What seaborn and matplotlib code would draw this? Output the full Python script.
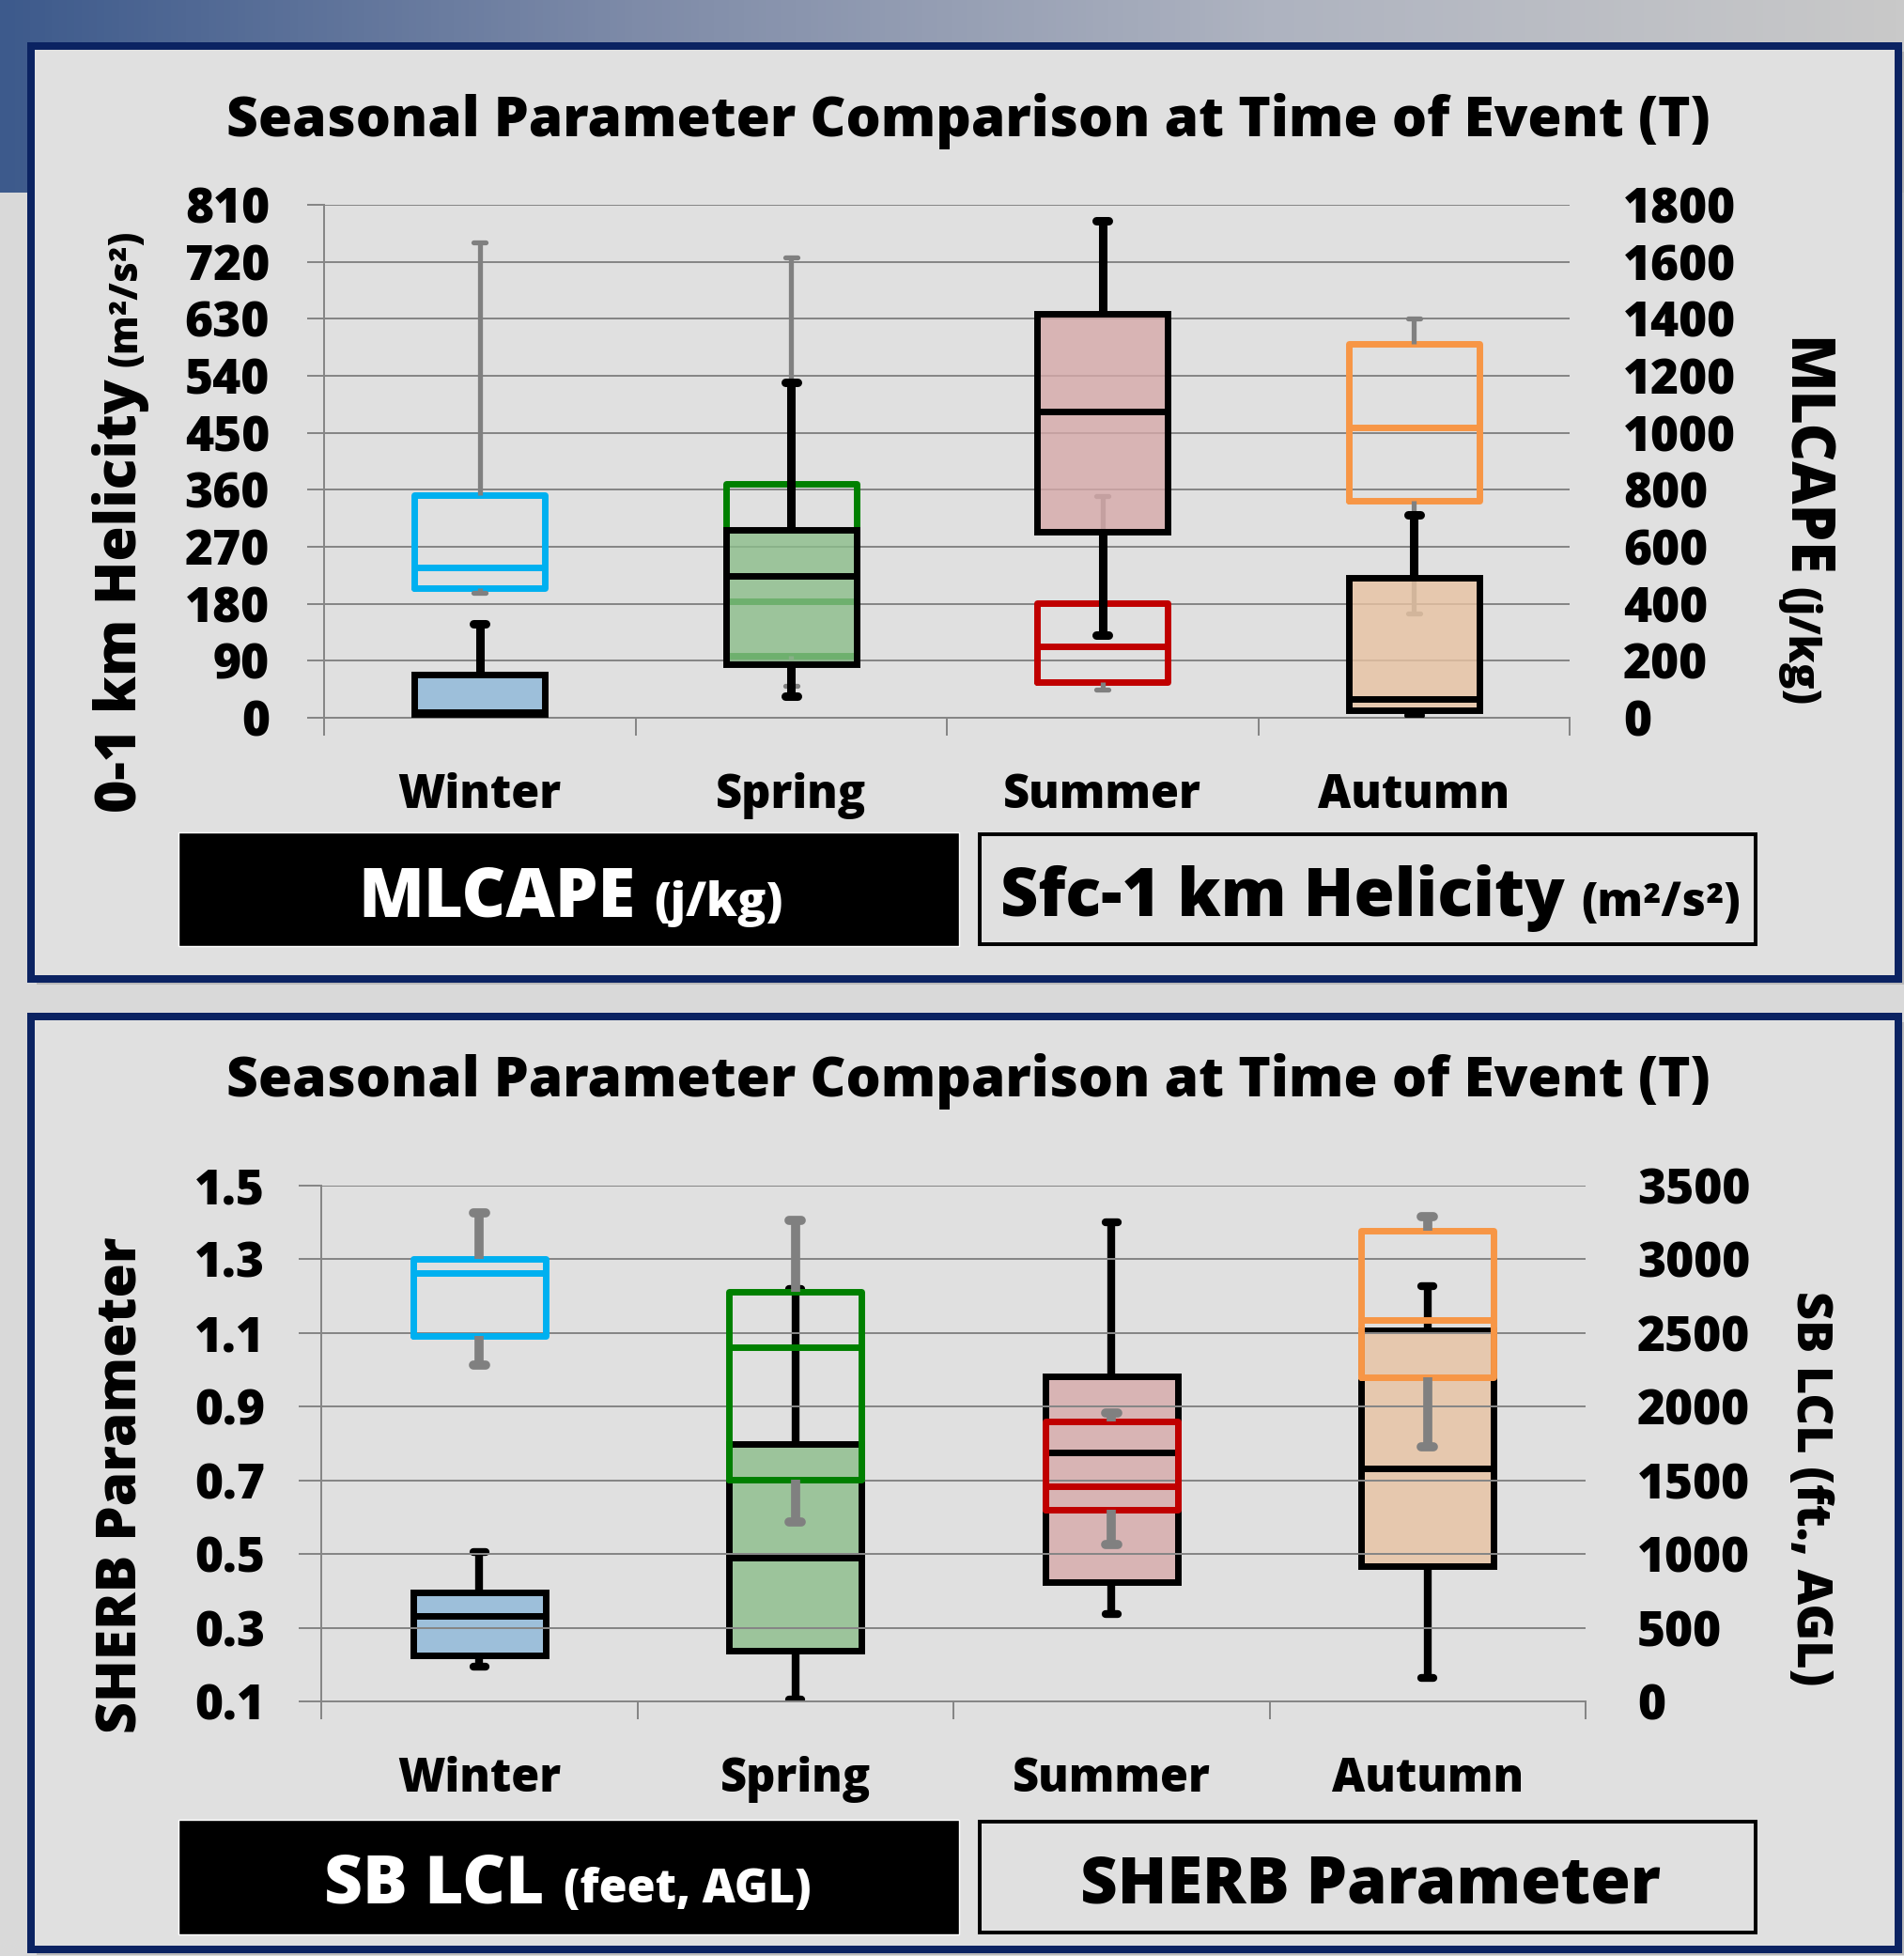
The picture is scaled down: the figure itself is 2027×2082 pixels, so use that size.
import numpy as np
import pandas as pd
import matplotlib
matplotlib.use("Agg")
import matplotlib.pyplot as plt
import matplotlib.colors as mcolors
from matplotlib.patches import Rectangle
import seaborn as sns

seasons = ["Winter", "Spring", "Summer", "Autumn"]

# top chart, left axis: 0-1 km helicity (min, q1, median, q3, max)
hel_min = [197, 50, 44, 165]
hel_q1 = [204, 98, 56, 343]
hel_med = [238, 184, 113, 458]
hel_q3 = [351, 370, 181, 591]
hel_max = [750, 727, 350, 631]

# top chart, right axis: MLCAPE j/kg
cape_min = [8, 77, 291, 10]
cape_q1 = [12, 187, 652, 25]
cape_med = [20, 497, 1076, 66]
cape_q3 = [150, 660, 1416, 490]
cape_max = [330, 1176, 1744, 711]

# bottom chart, left axis: SHERB parameter
sherb_min = [1.012, 0.588, 0.525, 0.790]
sherb_q1 = [1.093, 0.702, 0.620, 0.981]
sherb_med = [1.263, 1.061, 0.685, 1.136]
sherb_q3 = [1.300, 1.212, 0.861, 1.378]
sherb_max = [1.426, 1.406, 0.884, 1.416]

# bottom chart, right axis: SB LCL feet AGL
lcl_min = [237, 10, 593, 160]
lcl_q1 = [313, 342, 812, 920]
lcl_med = [578, 977, 1690, 1584]
lcl_q3 = [741, 1747, 2203, 2516]
lcl_max = [1015, 2801, 3249, 2816]

hel_ticks = [0, 90, 180, 270, 360, 450, 540, 630, 720, 810]
cape_ticks = [0, 200, 400, 600, 800, 1000, 1200, 1400, 1600, 1800]
sherb_ticks = [0.1, 0.3, 0.5, 0.7, 0.9, 1.1, 1.3, 1.5]
lcl_ticks = [0, 500, 1000, 1500, 2000, 2500, 3000, 3500]

line_colors = ["#00b0f0", "#008000", "#c00000", "#f79646"]
fill_colors = ["#8cb7d9", "#8bbd8a", "#d6a9a9", "#e8c3a2"]
grid_col = "#868686"
panel_bg = "#e0e0e0"
navy = "#0b2362"

W, H = 2027, 2082
PT = 72 / 100  # px -> pt


def five_num(mins, q1s, meds, q3s, maxs, name):
    rows = []
    for i, s in enumerate(seasons):
        for v in (mins[i], q1s[i], meds[i], q3s[i], maxs[i]):
            rows.append({"season": s, name: v})
    return pd.DataFrame(rows)


df_hel = five_num(hel_min, hel_q1, hel_med, hel_q3, hel_max, "hel")
df_cape = five_num(cape_min, cape_q1, cape_med, cape_q3, cape_max, "cape")
df_sherb = five_num(sherb_min, sherb_q1, sherb_med, sherb_q3, sherb_max, "sherb")
df_lcl = five_num(lcl_min, lcl_q1, lcl_med, lcl_q3, lcl_max, "lcl")

sns.set_theme(style="white")
plt.rcParams["font.family"] = ["Open Sans", "DejaVu Sans"]
plt.rcParams["font.weight"] = "heavy"
for k in ["text.color", "axes.labelcolor", "xtick.labelcolor", "ytick.labelcolor"]:
    plt.rcParams[k] = "black"

fig = plt.figure(figsize=(W / 100, H / 100), dpi=100, facecolor="#d9d9d9")

# background: gradient band, panels, legend boxes (pixel coordinates)
bg = fig.add_axes([0, 0, 1, 1], zorder=-5)
bg.set_xlim(0, W)
bg.set_ylim(H, 0)
bg.axis("off")
band = mcolors.LinearSegmentedColormap.from_list(
    "band", ["#3d5a8c", "#7e8ba8", "#aeb3c0", "#c9c9c9"])
bg.imshow(np.linspace(0, 1, 256)[None, :], cmap=band, aspect="auto",
          extent=[0, W, 205, 0], zorder=0)
for top, bot in [(49, 1042), (1082, 2075)]:
    bg.add_patch(Rectangle((39, top + 6), 2021 - 33, bot - top, facecolor="#9a9a9a",
                           alpha=0.5, edgecolor="none", zorder=1))
    bg.add_patch(Rectangle((33, top), 2021 - 33, bot - top, facecolor=panel_bg,
                           edgecolor=navy, linewidth=8 * PT, zorder=2))

for top, h in [(886, 121), (1937, 122)]:
    bg.add_patch(Rectangle((190, top), 831, h, facecolor="black", zorder=3))
    bg.add_patch(Rectangle((1043, top + 2), 826, h - 4, facecolor=panel_bg,
                           edgecolor="black", linewidth=4 * PT, zorder=3))

bg.text(381, 975, "MLCAPE", color="white", fontsize=52, va="baseline", zorder=4)
bg.text(696, 975, "(j/kg)", color="white", fontsize=36, va="baseline", zorder=4)
bg.text(1065, 975, "Sfc-1 km Helicity", fontsize=50.4, va="baseline", zorder=4)
bg.text(1683, 975, "(m²/s²)", fontsize=35, va="baseline", zorder=4)
bg.text(345, 2025, "SB LCL", color="white", fontsize=51, va="baseline", zorder=4)
bg.text(600, 2025, "(feet, AGL)", color="white", fontsize=35, va="baseline", zorder=4)
bg.text(1150, 2025, "SHERB Parameter", fontsize=49.5, va="baseline", zorder=4)

title = "Seasonal Parameter Comparison at Time of Event (T)"
bg.text(1031, 145, title, fontsize=42.1, ha="center", va="baseline", zorder=4)
bg.text(1031, 1167, title, fontsize=42.1, ha="center", va="baseline", zorder=4)

rot = dict(ha="left", va="baseline", rotation_mode="anchor", zorder=4)
bg.text(145, 865, "0-1 km Helicity", fontsize=43.6, rotation=90, **rot)
bg.text(145, 390, "(m²/s²)", fontsize=30, rotation=90, **rot)
bg.text(145, 1845, "SHERB Parameter", fontsize=42.3, rotation=90, **rot)
bg.text(1902, 359, "MLCAPE", fontsize=45, rotation=270, **rot)
bg.text(1902, 625, "(j/kg)", fontsize=33, rotation=270, **rot)
bg.text(1913, 1374, "SB LCL (ft., AGL)", fontsize=37.6, rotation=270, **rot)


def box_axes(l, t, r, b):
    return fig.add_axes([l / W, 1 - b / H, (r - l) / W, (b - t) / H])


def draw_panel(ax, dl, lcol, lticks, dr, rcol, rticks, grey_lw, black_lw,
               tick_len, lpad, rpad, left_on_top):
    ax2 = ax.twinx()
    sns.boxplot(data=dl, x="season", y=lcol, hue="season", palette=line_colors,
                saturation=1, fill=False, whis=(0, 100), width=0.42, linewidth=5,
                capwidths=0.04, showfliers=False, legend=False, ax=ax,
                whiskerprops=dict(color="#808080", linewidth=grey_lw),
                capprops=dict(color="#808080", linewidth=grey_lw))
    sns.boxplot(data=dr, x="season", y=rcol, hue="season", palette=fill_colors,
                saturation=1, fill=True, linecolor="black", whis=(0, 100),
                width=0.42, linewidth=5, capwidths=0.04, showfliers=False,
                legend=False, ax=ax2,
                whiskerprops=dict(linewidth=black_lw),
                capprops=dict(linewidth=black_lw))
    for p in ax2.patches:
        p.set_facecolor(mcolors.to_rgba(p.get_facecolor(), 0.8))

    ax.set_facecolor(panel_bg)
    ax.set_ylim(lticks[0], lticks[-1])
    ax2.set_ylim(rticks[0], rticks[-1])
    ax.set_yticks(lticks)
    ax.set_yticklabels([f"{v:g}" for v in lticks])
    ax2.set_yticks(rticks)
    ax2.set_yticklabels([f"{v:g}" for v in rticks])
    ax.set_xlim(-0.5, 3.5)
    ax.set_xticks(range(4))
    ax.set_xticklabels(seasons)
    ax.set_xticks([-0.5, 0.5, 1.5, 2.5, 3.5], minor=True)
    ax.grid(axis="y", color=grid_col, linewidth=2 * PT)
    ax.set_axisbelow(True)
    ax.set_xlabel("")
    ax.set_ylabel("")
    ax2.set_ylabel("")

    ax.tick_params(axis="y", length=tick_len, width=2 * PT, color=grid_col,
                   labelsize=37, pad=lpad, left=True, direction="out")
    ax.tick_params(axis="x", which="major", length=0, labelsize=35, pad=42)
    ax.tick_params(axis="x", which="minor", length=19 * PT, width=2 * PT,
                   color=grid_col, bottom=True, direction="out")
    ax2.tick_params(axis="y", length=0, labelsize=37, pad=rpad)
    for s in ["top", "right"]:
        ax.spines[s].set_visible(False)
    for s in ["left", "bottom"]:
        ax.spines[s].set_color(grid_col)
        ax.spines[s].set_linewidth(2 * PT)
    for s in ax2.spines.values():
        s.set_visible(False)

    if left_on_top:
        ax.set_zorder(ax2.get_zorder() + 1)
        ax.patch.set_visible(False)
        ax2.patch.set_visible(True)
        ax2.patch.set_facecolor(panel_bg)
    return ax2


ax_top = box_axes(345, 218, 1671, 764)
draw_panel(ax_top, df_hel, "hel", hel_ticks, df_cape, "cape", cape_ticks,
           grey_lw=3.8, black_lw=6.5, tick_len=18 * PT, lpad=40 * PT,
           rpad=57 * PT, left_on_top=False)

ax_bot = box_axes(342, 1262, 1688, 1811)
draw_panel(ax_bot, df_sherb, "sherb", sherb_ticks, df_lcl, "lcl", lcl_ticks,
           grey_lw=7, black_lw=6, tick_len=24 * PT, lpad=36 * PT,
           rpad=55 * PT, left_on_top=True)

fig.savefig("out.png", dpi=100, facecolor=fig.get_facecolor())
